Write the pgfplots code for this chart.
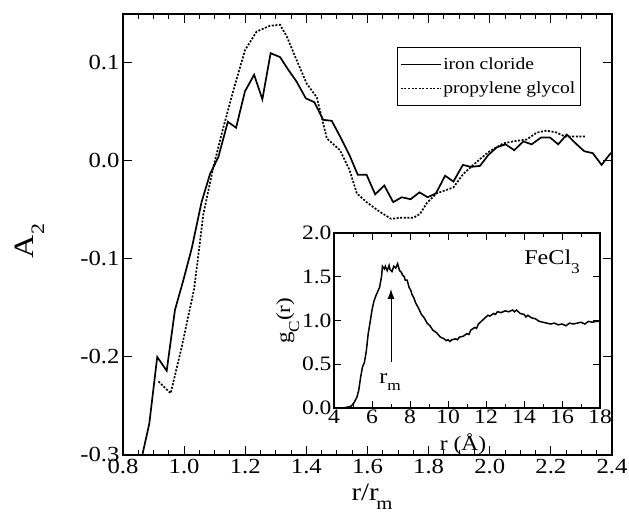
\documentclass[border=0pt]{standalone}
\usepackage{fontspec}
\setmainfont{Liberation Serif}[FakeStretch=1.15]
\usepackage{pgfplots}
\pgfplotsset{compat=1.18}
\usetikzlibrary{arrows.meta}
\newcommand\sub[2]{\raisebox{-#2}{\fontsize{15}{15}\selectfont #1}}
\begin{document}
\begin{tikzpicture}[x=1pt,y=1pt]
\begin{axis}[
  at={(123pt,59pt)}, anchor=south west, scale only axis,
  width=489pt, height=441pt,
  xmin=0.8, xmax=2.4, ymin=-0.3, ymax=0.15,
  xtick={0.8,1.0,...,2.4}, ytick={-0.3,-0.2,...,0.1},
  minor x tick num=3,
  tick align=inside,
  major tick length=9pt, minor tick length=5pt,
  every tick/.style={line width=1pt, black},
  axis line style={line width=1.5pt},
  /pgf/number format/assume math mode=true,
  /pgf/number format/.cd, fixed, fixed zerofill, precision=1, /tikz/.cd,
  ticklabel style={font=\fontsize{21.5}{24}\selectfont},
  xticklabel style={yshift=-1pt},
  legend cell align=left,
  legend style={at={(axis description cs:0.560,0.925)}, anchor=north west,
    font=\fontsize{17}{19}\selectfont, draw=black, line width=0.7pt,
    inner xsep=3pt, inner ysep=8pt, row sep=7pt},
  legend image code/.code={\draw[#1, line width=1.1pt] (0pt,0pt) -- (40pt,0pt);},
]
\addplot[black, line width=1.7pt] coordinates {
(0.850,-0.320) (0.864,-0.299) (0.886,-0.268) (0.912,-0.200) (0.943,-0.214)
(0.970,-0.152) (0.998,-0.121) (1.025,-0.089) (1.057,-0.042) (1.085,-0.013)
(1.112,0.004) (1.143,0.040) (1.170,0.034) (1.199,0.071) (1.229,0.088)
(1.256,0.063) (1.283,0.110) (1.314,0.106) (1.341,0.093) (1.368,0.081)
(1.398,0.064) (1.426,0.060) (1.455,0.042) (1.483,0.041) (1.512,0.024)
(1.541,0.006) (1.568,-0.014) (1.597,-0.014) (1.625,-0.034) (1.655,-0.025)
(1.684,-0.042) (1.712,-0.037) (1.741,-0.039) (1.770,-0.032) (1.797,-0.037)
(1.824,-0.033) (1.854,-0.015) (1.881,-0.021) (1.912,-0.004) (1.939,-0.006)
(1.968,-0.005) (1.995,0.006) (2.023,0.014) (2.052,0.017) (2.080,0.011)
(2.110,0.020) (2.137,0.017) (2.168,0.024) (2.197,0.024) (2.224,0.017)
(2.252,0.027) (2.281,0.018) (2.309,0.010) (2.337,0.008) (2.366,-0.004)
(2.393,0.007) (2.420,0.014)
};
\addlegendentry{iron cloride}
\addplot[black, line width=1.7pt, dash pattern=on 2pt off 1.6pt] coordinates {
(0.916,-0.225) (0.956,-0.237) (0.992,-0.190) (1.033,-0.130) (1.063,-0.054)
(1.096,-0.006) (1.123,0.028) (1.161,0.072) (1.199,0.113) (1.237,0.132)
(1.281,0.138) (1.314,0.139) (1.336,0.127) (1.368,0.103) (1.401,0.079)
(1.434,0.065) (1.467,0.023) (1.510,0.011) (1.541,-0.009) (1.565,-0.033)
(1.597,-0.042) (1.641,-0.052) (1.677,-0.059) (1.706,-0.058) (1.750,-0.058)
(1.772,-0.054) (1.794,-0.043) (1.826,-0.033) (1.881,-0.027) (1.914,-0.013)
(1.957,-0.001) (1.995,0.009) (2.044,0.018) (2.077,0.020) (2.121,0.022)
(2.154,0.029) (2.186,0.031) (2.219,0.029) (2.246,0.025) (2.312,0.025)
};
\addlegendentry{propylene glycol}
\end{axis}
\begin{axis}[
  at={(334pt,106pt)}, anchor=south west, scale only axis,
  width=266pt, height=175pt,
  xmin=4, xmax=18, ymin=0, ymax=2,
  xtick={4,6,...,18}, ytick={0,0.5,...,2},
  minor x tick num=1,
  tick align=inside,
  major tick length=7pt, minor tick length=4pt,
  every tick/.style={line width=1pt, black},
  axis line style={line width=1.4pt},
  /pgf/number format/assume math mode=true,
  ticklabel style={font=\fontsize{20.5}{23}\selectfont},
  xticklabel style={yshift=2pt},
  yticklabel style={xshift=1pt, /pgf/number format/.cd, fixed, fixed zerofill, precision=1},
]
\addplot[black, line width=1.5pt] coordinates {
(4.0,0) (4.5,0.0) (4.7,0.01) (4.9,0.02) (5.05,0.06) (5.2,0.12) (5.3,0.2)
(5.4,0.35) (5.5,0.47) (5.6,0.52) (5.7,0.65) (5.8,0.85) (5.9,0.98) (6.0,1.12)
(6.1,1.22) (6.2,1.28) (6.3,1.33) (6.4,1.38) (6.5,1.5) (6.55,1.62) (6.65,1.59)
(6.7,1.62) (6.8,1.57) (6.9,1.63) (6.95,1.58) (7.05,1.56) (7.15,1.62) (7.25,1.6)
(7.35,1.65) (7.45,1.57) (7.55,1.55) (7.6,1.52) (7.7,1.5) (7.75,1.46) (7.85,1.46)
(7.95,1.38) (8.05,1.34) (8.1,1.3) (8.2,1.26) (8.3,1.2) (8.45,1.14) (8.6,1.07)
(8.75,1.03) (8.9,0.97) (9.05,0.94) (9.2,0.89) (9.4,0.86) (9.6,0.81) (9.8,0.79)
(9.9,0.77) (10.0,0.78) (10.1,0.76) (10.2,0.78) (10.4,0.79) (10.5,0.78) (10.6,0.81)
(10.8,0.82) (11.0,0.85) (11.1,0.84) (11.2,0.89) (11.4,0.92) (11.5,0.91) (11.6,0.96)
(11.8,1.0) (12.0,1.04) (12.1,1.06) (12.2,1.05) (12.4,1.08) (12.5,1.07) (12.6,1.1)
(12.8,1.09) (13.0,1.11) (13.2,1.1) (13.4,1.12) (13.5,1.1) (13.6,1.12) (13.8,1.08)
(14.0,1.07) (14.1,1.04) (14.2,1.06) (14.4,1.03) (14.6,1.02) (14.8,0.99) (15.0,0.98)
(15.2,0.97) (15.4,0.96) (15.6,0.97) (15.8,0.95) (16.0,0.96) (16.2,0.94) (16.4,0.97)
(16.6,0.96) (16.8,0.97) (17.0,0.98) (17.2,0.96) (17.4,0.99) (17.6,0.98) (17.8,0.99) (18.0,0.99)
};
\draw[line width=1pt, -{Latex[length=10pt,width=7pt]}] (axis cs:7.0,0.52) -- (axis cs:7.0,1.36);
\node[anchor=base, font=\fontsize{21}{23}\selectfont, inner sep=0pt] at (axis cs:6.95,0.28) {r\sub{m}{0.35em}};
\node[anchor=north east, font=\fontsize{21}{23}\selectfont, inner sep=0pt] at (axis cs:16.95,1.81) {FeCl\sub{3}{0.45em}};
\end{axis}
% axis titles
\node[rotate=90, anchor=base, font=\fontsize{28}{30}\selectfont, inner sep=0pt] at (33pt,273pt) {A\raisebox{-0.4em}{\fontsize{19}{19}\selectfont 2}};
\node[anchor=base, font=\fontsize{25}{27}\selectfont, inner sep=0pt] at (372pt,14pt) {r/r\kern-0.1em\raisebox{-0.4em}{\fontsize{18}{18}\selectfont m}};
\node[rotate=90, anchor=base, font=\fontsize{20}{22}\selectfont, inner sep=0pt] at (290pt,193pt) {g\raisebox{-0.45em}{\fontsize{15}{15}\selectfont C}(r)};
\node[anchor=base, font=\fontsize{20.5}{23}\selectfont, inner sep=0pt] at (463pt,63pt) {r (Å)};
\pgfresetboundingbox
\path[use as bounding box] (0pt,0pt) rectangle (629pt,514pt);
\end{tikzpicture}
\end{document}
